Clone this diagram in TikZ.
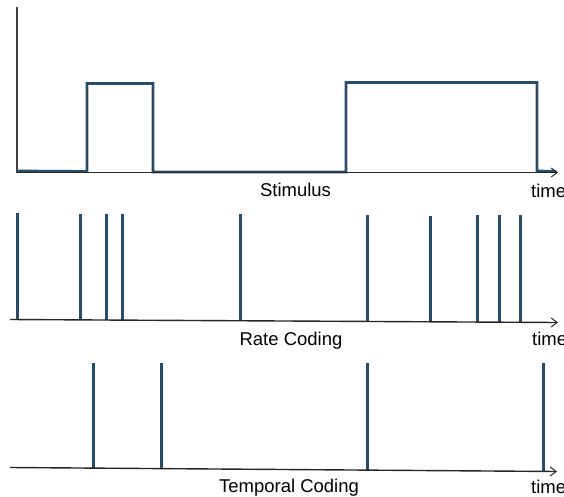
\documentclass[tikz,border=0pt]{standalone}
\usepackage{fontspec}
\setmainfont{Liberation Sans}
\usetikzlibrary{arrows.meta}
\definecolor{signal}{HTML}{2B4C69}
\tikzset{
  axis/.style={line width=1.4pt, black!85, -{Straight Barb[length=6pt,width=9pt,line width=1pt]}},
  yaxis/.style={line width=1.6pt, black!75},
  wave/.style={line width=2.8pt, signal, line join=miter},
  spike/.style={line width=3pt, signal},
  label/.style={font=\fontsize{18.5}{20}\selectfont, inner sep=0pt, anchor=base},
  timelabel/.style={font=\fontsize{18.5}{20}\selectfont, inner sep=0pt, anchor=base west}
}
\begin{document}
\begin{tikzpicture}[x=1pt,y=-1pt]
\useasboundingbox (0,0) rectangle (564,497);

% ---- stimulus panel ----
\coordinate (s0) at (17,172.5);
\coordinate (sy) at (17,7);
\coordinate (sx) at (558,172.5);
\draw[wave] (17,171) -- (87,171.5) -- (87,83.5) -- (153,83.5) -- (153,172)
  -- (346,172) -- (346,82.5) -- (537,82.5) -- (537,171) -- (556,171.5);
\draw[yaxis] (sy) -- (s0);
\draw[axis] (s0) -- (sx);
\node[label] (stim) at (295.5,196) {Stimulus};
\node[timelabel] (t1) at (531,197) {time};

% ---- rate coding panel ----
\coordinate (r0) at (10,319.5);
\coordinate (rx) at (558,322.5);
\foreach \x/\t in {17/213, 80/213.5, 106/213.5, 122/213.5, 240/213.5,
                   367/215, 430/215.5, 477/215, 499/215, 520/215}
  \draw[spike] (\x,\t) -- (\x,{319.5+3*(\x-10)/548});
\draw[axis] (r0) -- (rx);
\node[label] (rate) at (291,345) {Rate Coding};
\node[timelabel] (t2) at (532,345) {time};

% ---- temporal coding panel ----
\coordinate (p0) at (10,467.5);
\coordinate (px) at (557,471.5);
\foreach \x in {93, 161, 367, 543}
  \draw[spike] (\x,363) -- (\x,{467.5+4*(\x-10)/547});
\draw[axis] (p0) -- (px);
\node[label] (temp) at (289,492) {Temporal Coding};
\node[timelabel] (t3) at (531,493) {time};
\end{tikzpicture}
\end{document}
